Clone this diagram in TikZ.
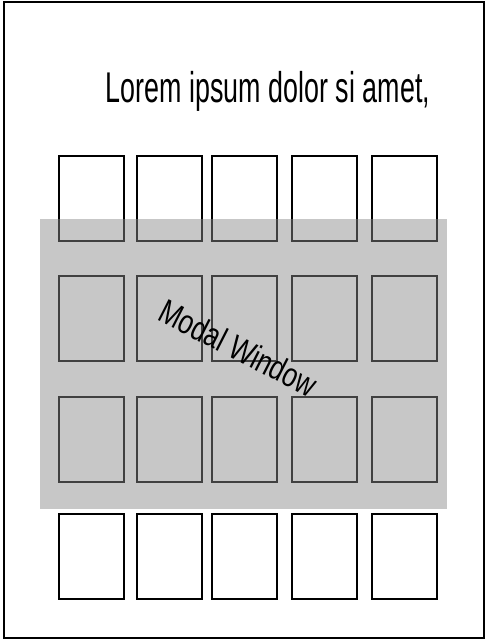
\documentclass[tikz,border=0pt]{standalone}
\usepackage{fontspec}
\setmainfont{Liberation Sans}
\definecolor{overlay}{RGB}{137,137,137}
\begin{document}
\begin{tikzpicture}[x=1pt,y=-1pt,
  cell/.style={draw=black,line width=2pt,rectangle,inner sep=0pt,minimum width=65pt,minimum height=85pt},
  frame/.style={draw=black,line width=2.2pt},
  modal/.style={fill=overlay,fill opacity=0.47,draw=none}]
\useasboundingbox (0,0) rectangle (486,641);
\draw[frame] (4,2) rectangle (484,638);
\node[inner sep=0pt,anchor=base,xscale=0.625] (title) at (268,102) {\fontsize{43}{43}\selectfont Lorem ipsum dolor si amet,};
\foreach \r/\y in {1/198.5,2/318.5,3/439,4/556}{
  \foreach \c/\x in {1/91.5,2/169.5,3/244,4/324,5/404}{
    \node[cell] (b\r\c) at (\x,\y) {};
  }
}
\node[modal,minimum width=407pt,minimum height=290pt,inner sep=0pt] (win) at (243.5,364) {};
\node[rotate=-27,xscale=0.77,inner sep=0pt] (label) at (238.5,348) {\fontsize{34}{34}\selectfont Modal Window};
\end{tikzpicture}
\end{document}
